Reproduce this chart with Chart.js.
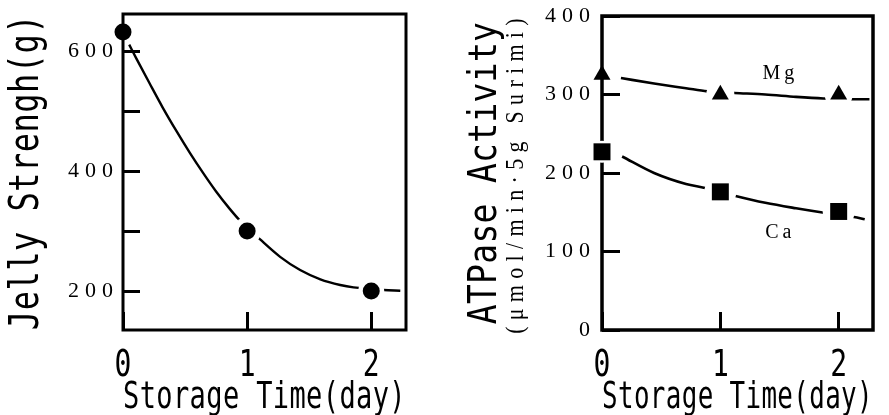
<!DOCTYPE html>
<html><head><meta charset="utf-8">
<script src="https://cdn.jsdelivr.net/npm/chart.js@4.4.0/dist/chart.umd.min.js"></script>
<style>
html,body{margin:0;padding:0;background:#fff;}
#wrap{position:relative;width:889px;height:415px;background:#fff;}
canvas{position:absolute;top:0;}
</style>
</head><body>
<div id="wrap">
<canvas id="c1" width="440" height="415" style="left:0px"></canvas>
<canvas id="c2" width="449" height="415" style="left:440px"></canvas>
</div>
<script>
// ---------- data ----------
const days = [0, 1, 2];
const dayTicks = [0, 1, 2];

const jellyStrength = [632, 300, 200];
const jellyCurveDays   = [0.05, 0.107, 0.215, 0.32, 0.43, 0.54, 0.645, 0.75, 0.86, 0.94, 1.105, 1.266, 1.427, 1.59, 1.75, 1.857, 2.10, 2.234];
const jellyCurveValues = [611, 588, 546, 506, 467, 430, 397, 366, 337, 318, 286, 257, 235, 219.5, 210, 206, 201.7, 200.5];
const jellyTicks = [200, 300, 400, 500, 600];
const jellyTickLabels = [200, 400, 600];

const mgATPase = [325, 300, 300];
const caATPase = [227, 176, 151];
const mgCurveDays   = [0.16, 0.44, 0.71, 0.89, 1.12, 1.38, 1.64, 1.87, 2.15, 2.26];
const mgCurveValues = [321, 314, 308, 304, 302, 300, 297, 295, 294, 294];
const caCurveDays   = [0.17, 0.44, 0.71, 0.87, 1.12, 1.38, 1.64, 1.89, 2.13, 2.22];
const caCurveValues = [221, 200, 186, 181, 171, 162, 155, 149, 144, 141];
const atpaseTicks = [0, 100, 200, 300, 400];

const seriesNames = ['Mg', 'Ca'];
const seriesLabelDays = [1.49, 1.49];
const seriesLabelValues = [326, 124];

// ---------- styling constants ----------
const MONO = "'DejaVu Sans Mono', monospace";
const SERIF = "'Liberation Serif', serif";
const jellyHalo = [0, 14, 13];
const mgHalo = [0, 14, 14];
const caHalo = [11, 16, 16];

const pts = (xs, ys) => xs.map((x, i) => ({x: x, y: ys[i]}));

// box around plot area (drawn before datasets so marker halos cut it)
const boxPlugin = {
  id: 'box',
  beforeDatasetsDraw(chart, args, opts) {
    const {ctx, chartArea: a} = chart;
    ctx.save();
    ctx.lineWidth = opts.width || 3;
    ctx.strokeStyle = '#000';
    ctx.strokeRect(a.left, a.top, a.right - a.left, a.bottom - a.top);
    ctx.restore();
  }
};

// letter spacing / stretch of the axis texts
const textTweaks = {
  id: 'textTweaks',
  beforeDraw(chart, args, opts) {
    const axes = opts.axes || {};
    Object.keys(axes).forEach(id => {
      const cfg = axes[id];
      const scale = chart.scales[id];
      if (!scale || scale.$tweaked) return;
      scale.$tweaked = true;
      const origLabels = scale.drawLabels;
      const origTitle = scale.drawTitle;
      scale.drawLabels = function(area) {
        const ctx = this.ctx;
        ctx.save();
        if (cfg.labelSpacing) ctx.letterSpacing = cfg.labelSpacing + 'px';
        if (cfg.labelStretch) {
          ctx.translate(0, this.top); ctx.scale(1, cfg.labelStretch); ctx.translate(0, -this.top);
        }
        origLabels.call(this, area);
        ctx.restore();
      };
      scale.drawTitle = function() {
        const ctx = this.ctx;
        const t = this.options.title;
        ctx.save();
        if (cfg.titleSpacing) ctx.letterSpacing = cfg.titleSpacing + 'px';
        if (cfg.titleStretch) {
          const lh = t.font.size * 1.2;
          const pad = typeof t.padding === 'number' ? t.padding : 0;
          if (this.isHorizontal()) {
            const cy = this.bottom - pad - lh / 2;
            ctx.translate(0, cy); ctx.scale(1, cfg.titleStretch); ctx.translate(0, -cy);
          } else {
            const cx = this.left + pad + lh / 2;
            ctx.translate(cx, 0); ctx.scale(cfg.titleStretch, 1); ctx.translate(-cx, 0);
          }
        }
        origTitle.call(this);
        ctx.restore();
      };
    });
  }
};

// series names written next to the curves
const seriesLabelPlugin = {
  id: 'seriesLabels',
  afterDatasetsDraw(chart, args, opts) {
    if (!opts.show) return;
    const {ctx} = chart;
    const xs = chart.scales.x, ys = chart.scales.y;
    ctx.save();
    ctx.font = '20px ' + SERIF;
    ctx.fillStyle = '#000';
    ctx.textAlign = 'center';
    ctx.textBaseline = 'middle';
    ctx.letterSpacing = '4px';
    seriesNames.forEach((name, i) => {
      ctx.fillText(name, xs.getPixelForValue(seriesLabelDays[i]) + 2, ys.getPixelForValue(seriesLabelValues[i]));
    });
    ctx.restore();
  }
};

const tickGrid = (len) => ({
  display: true, drawOnChartArea: false, drawTicks: true,
  tickLength: -len, tickWidth: 3, tickColor: '#000'
});

function xScale(max) {
  return {
    type: 'linear', position: 'bottom', min: 0, max: max,
    afterBuildTicks: s => { s.ticks = dayTicks.map(v => ({value: v})); },
    ticks: {font: {family: MONO, size: 28}, color: '#000', padding: 28, maxRotation: 0, autoSkip: false,
            callback: v => String(v)},
    grid: tickGrid(18),
    border: {display: false},
    title: {display: true, text: 'Storage Time(day)', font: {family: MONO, size: 28}, color: '#000', padding: 0},
    afterFit: s => { s.height = 85; s.paddingLeft = 0; s.paddingRight = 0; }
  };
}

Chart.defaults.animation = false;

// ---------- left chart: jelly strength ----------
new Chart(document.getElementById('c1'), {
  type: 'line',
  data: {
    datasets: [
      {label: 'Jelly strength', data: pts(days, jellyStrength), showLine: false, pointStyle: 'circle',
       pointRadius: 8.5, pointBackgroundColor: '#000', pointBorderWidth: 0, order: 0, clip: false},
      {label: 'halo', data: pts(days, jellyStrength), showLine: false, pointStyle: 'circle',
       pointRadius: c => jellyHalo[c.dataIndex], pointBackgroundColor: '#fff', pointBorderWidth: 0, order: 1, clip: false},
      {label: 'fit', data: pts(jellyCurveDays, jellyCurveValues), borderColor: '#000', borderWidth: 2.4,
       pointRadius: 0, cubicInterpolationMode: 'monotone', fill: false, order: 2}
    ]
  },
  options: {
    responsive: false, devicePixelRatio: 1, events: [],
    layout: {padding: {top: 14, right: 34, left: 0, bottom: 0}},
    plugins: {legend: {display: false}, tooltip: {enabled: false},
      box: {width: 3},
      seriesLabels: {show: false},
      textTweaks: {axes: {x: {labelStretch: 1.34, titleStretch: 1.34, titleSpacing: 0.4},
                          y: {labelSpacing: 6, titleStretch: 1.25, titleSpacing: 0.5}}}},
    scales: {
      x: xScale(2.28),
      y: {
        type: 'linear', position: 'left', min: 135, max: 662,
        afterBuildTicks: s => { s.ticks = jellyTicks.map(v => ({value: v})); },
        ticks: {font: {family: SERIF, size: 22}, color: '#000', padding: 21,
                callback: v => jellyTickLabels.includes(v) ? String(v) : ''},
        grid: tickGrid(17),
        border: {display: false},
        title: {display: true, text: 'Jelly Strengh(g)', font: {family: MONO, size: 32}, color: '#000', padding: 8},
        afterFit: s => { s.width = 123; s.paddingTop = 0; s.paddingBottom = 0; }
      }
    }
  },
  plugins: [boxPlugin, textTweaks, seriesLabelPlugin]
});

// ---------- right chart: ATPase activity ----------
new Chart(document.getElementById('c2'), {
  type: 'line',
  data: {
    datasets: [
      {label: 'Mg', data: pts(days, mgATPase), yAxisID: 'y', showLine: false, pointStyle: 'triangle',
       pointRadius: 9.8, pointBackgroundColor: '#000', pointBorderWidth: 0, order: 0, clip: false},
      {label: 'Ca', data: pts(days, caATPase), yAxisID: 'y', showLine: false, pointStyle: 'rect',
       pointRadius: 12, pointBackgroundColor: '#000', pointBorderWidth: 0, order: 0, clip: false},
      {label: 'halo Mg', data: pts(days, mgATPase), yAxisID: 'y', showLine: false, pointStyle: 'circle',
       pointRadius: c => mgHalo[c.dataIndex], pointBackgroundColor: '#fff', pointBorderWidth: 0, order: 1, clip: false},
      {label: 'halo Ca', data: pts(days, caATPase), yAxisID: 'y', showLine: false, pointStyle: 'circle',
       pointRadius: c => caHalo[c.dataIndex], pointBackgroundColor: '#fff', pointBorderWidth: 0, order: 1, clip: false},
      {label: 'fit Mg', data: pts(mgCurveDays, mgCurveValues), yAxisID: 'y', borderColor: '#000', borderWidth: 2.6,
       pointRadius: 0, cubicInterpolationMode: 'monotone', fill: false, order: 2},
      {label: 'fit Ca', data: pts(caCurveDays, caCurveValues), yAxisID: 'y', borderColor: '#000', borderWidth: 2.6,
       pointRadius: 0, cubicInterpolationMode: 'monotone', fill: false, order: 2}
    ]
  },
  options: {
    responsive: false, devicePixelRatio: 1, events: [],
    layout: {padding: {top: 14, right: 2, left: 0, bottom: 0}},
    plugins: {legend: {display: false}, tooltip: {enabled: false},
      box: {width: 3.5},
      seriesLabels: {show: true},
      textTweaks: {axes: {x: {labelStretch: 1.34, titleStretch: 1.34, titleSpacing: 0.4},
                          y: {labelSpacing: 6, titleStretch: 1.15, titleSpacing: 6.3},
                          y2: {titleStretch: 1.17, titleSpacing: 0.3}}}},
    scales: {
      x: xScale(2.29),
      y: {
        type: 'linear', position: 'left', min: 0, max: 400, weight: 0,
        afterBuildTicks: s => { s.ticks = atpaseTicks.map(v => ({value: v})); },
        ticks: {font: {family: SERIF, size: 22}, color: '#000', padding: 24, callback: v => String(v)},
        grid: tickGrid(18),
        border: {display: false},
        title: {display: true, text: '(μmol/min·5g Surimi)', font: {family: SERIF, size: 22}, color: '#000', padding: 1},
        afterFit: s => { s.width = 100; s.paddingTop = 0; s.paddingBottom = 0; }
      },
      y2: {
        type: 'linear', position: 'left', min: 0, max: 400, weight: 10,
        ticks: {display: false},
        grid: {display: false},
        border: {display: false},
        title: {display: true, text: 'ATPase Activity', font: {family: MONO, size: 33}, color: '#000', padding: 26},
        afterFit: s => { s.width = 62; s.paddingTop = 0; s.paddingBottom = 0; }
      }
    }
  },
  plugins: [boxPlugin, textTweaks, seriesLabelPlugin]
});
</script>
</body></html>
